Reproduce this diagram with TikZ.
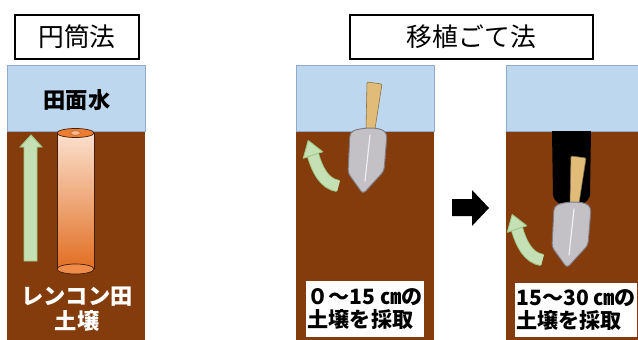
\documentclass[tikz,border=0pt]{standalone}
\usepackage{fontspec}
\newfontfamily\jp{Noto Sans CJK JP}
\usepackage{tikz}
\usetikzlibrary{calc,positioning}

\definecolor{water}{HTML}{BDD7EE}
\definecolor{waterline}{HTML}{8FAACB}
\definecolor{soil}{HTML}{843C0C}
\definecolor{leaf}{HTML}{C5E0B4}
\definecolor{leafline}{HTML}{9CC884}
\definecolor{peach}{HTML}{FBE0CE}
\definecolor{rust}{HTML}{E06A1C}
\definecolor{pipe}{HTML}{ED7D31}
\definecolor{steel}{HTML}{C3C0C6}
\definecolor{steelline}{HTML}{7E7C82}
\definecolor{grip}{HTML}{E0BC78}

\tikzstyle{title}=[draw=black, line width=1.4pt, fill=white,
                   minimum height=1.32cm, inner sep=0pt,
                   font=\jp\fontsize{22}{24}\selectfont]
\tikzstyle{label}=[inner sep=0pt, align=center,
                   font=\jp\bfseries\fontsize{19}{21.5}\selectfont]
\tikzstyle{tag}  =[fill=white, anchor=north west, align=left,
                   inner sep=1pt, font=\jp\bfseries\fontsize{18}{19.5}\selectfont]

% trowel, handle top at (#1,#2)
\newcommand{\trowel}[2]{%
  \begin{scope}[shift={(#1,#2)}]
    \draw[fill=grip, draw=grip!60!black, line width=0.5pt, rounded corners=1]
      (-7,-1) -- (8,1) -- (1,46) -- (-8,46) -- cycle;
    \draw[fill=steel, draw=steelline, line width=0.8pt, rounded corners=3]
      (-24,50) .. controls (-16,45) and (5,43) .. (13,51)
      -- (10,88) -- (-11,111) -- (-26,90) -- cycle;
    \draw[white!75!steel, line width=1pt, line cap=round] (-4,52) -- (-9,98);
  \end{scope}}

% curved green arrow, tail at (#1,#2)
\newcommand{\liftarrow}[2]{%
  \begin{scope}[shift={(#1,#2)}]
    \draw[leafline, line width=10.5pt]
      (0,0) .. controls (-14,-2) and (-21,-17) .. (-25,-31);
    \draw[leaf, line width=9pt]
      (0.6,0) .. controls (-14,-2) and (-21,-17) .. (-25,-31);
    \draw[fill=leaf, draw=leafline, line width=0.8pt, line join=round]
      (-15.3,-34.3) -- (-29.8,-45.5) -- (-34.7,-27.7) -- cycle;
  \end{scope}}

\begin{document}
\begin{tikzpicture}[x=0.03cm, y=-0.03cm]
  \clip (0,0) rectangle (638,340);
  \useasboundingbox (0,0) rectangle (638,340);
  \fill[white] (0,0) rectangle (638,340);

  % ground: water over soil
  \foreach \x/\w in {7/138, 296/138, 506/140}{
    \fill[soil] (\x,131) rectangle ++(\w,215);
    \draw[fill=water, draw=waterline, line width=0.6pt] (\x,65) rectangle ++(\w,66);
  }

  \node[title, minimum width=3.72cm] (t1) at (77,37) {円筒法};
  \node[title, minimum width=7.29cm] (t2) at (471.5,37) {移植ごて法};

  % core method
  \node[label] (surf) at (77,100) {田面水};
  \fill[leaf, draw=leafline, line width=0.8pt]
    (24,261) -- (24,147) -- (20,147) -- (31,135) -- (42,147)
    -- (37,147) -- (37,261) -- cycle;
  \shade[top color=peach, bottom color=rust]
    (57,133) -- (57,269) arc[start angle=180, end angle=0, x radius=18.5, y radius=5]
    -- (94,133) -- cycle;
  \draw[soil!50!black, line width=0.6pt]
    (57,133) -- (57,269) (94,133) -- (94,269);
  \draw[fill=pipe!85!peach, draw=soil!50!black, line width=0.6pt]
    (75.5,269) ellipse[x radius=18.5, y radius=5];
  \draw[fill=pipe, draw=soil!50!black, line width=0.6pt]
    (75.5,133) ellipse[x radius=18.5, y radius=4.5];
  \draw[fill=peach!60!pipe, draw=pipe!70!black, line width=0.4pt]
    (75.5,133) ellipse[x radius=5, y radius=2.3];
  \node[label, text=white] (soil1) at (77,309) {レンコン田\\土壌};

  % trowel, 0-15 cm
  \trowel{374}{83}
  \liftarrow{338}{186}
  \node[tag, minimum width=3.54cm, minimum height=1.68cm] (tag1) at (306,281)
    {０～15 ㎝の\\土壌を採取};

  \fill[black] (452,199) -- (472,199) -- (472,190) -- (489,208)
    -- (472,226) -- (472,216) -- (452,216) -- cycle;

  % trowel, 15-30 cm
  \fill[black] (552,131) -- (553,195) .. controls (555,210) and (587,210) .. (590,195)
    -- (591,131) -- cycle;
  \trowel{578}{157}
  \liftarrow{542}{260}
  \node[tag, minimum width=3.3cm, minimum height=1.62cm] (tag2) at (515,283)
    {15～30 ㎝の\\土壌を採取};
\end{tikzpicture}
\end{document}
